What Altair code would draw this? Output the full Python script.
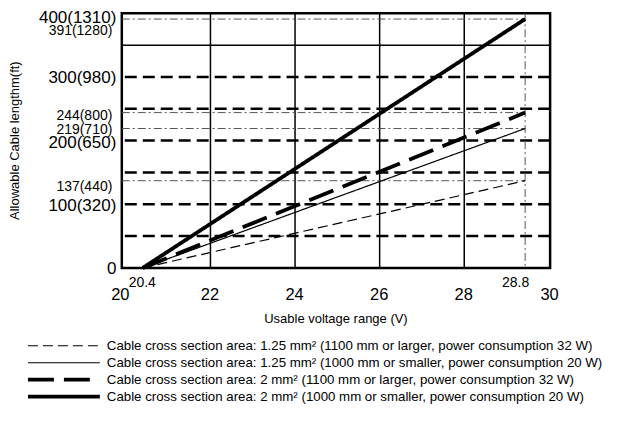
import altair as alt
import pandas as pd

# ---- data ----
series = [
    "Cable cross section area: 1.25 mm² (1100 mm or larger, power consumption 32 W)",
    "Cable cross section area: 1.25 mm² (1000 mm or smaller, power consumption 20 W)",
    "Cable cross section area: 2 mm² (1100 mm or larger, power consumption 32 W)",
    "Cable cross section area: 2 mm² (1000 mm or smaller, power consumption 20 W)",
]
v_start = 20.4
v_end = 28.8
len_start = [0, 0, 0, 0]
len_end = [137, 219, 244, 391]

y_ticks = [0, 100, 137, 200, 219, 244, 300, 391, 400]
y_labels = ["0", "100(320)", "137(440)", "200(650)", "219(710)", "244(800)",
            "300(980)", "391(1280)", "400(1310)"]
y_minor = [137, 219, 244, 391]
x_ticks = [20, 20.4, 22, 24, 26, 28, 28.8, 30]
x_labels = ["20", "20.4", "22", "24", "26", "28", "28.8", "30"]
x_minor = [20.4, 28.8]
grid_dashed = [50, 100, 150, 200, 250, 300]
grid_solid = [350]
grid_v = [22, 24, 26, 28]
ref_levels = [137, 219, 244, 391]

# ---- styles ----
dashes = [[10, 5], [1, 0], [26, 10], [1, 0]]
widths = [1.2, 1.2, 3.8, 3.8]
FONT = "Liberation Sans"

rows = []
for s, a, b in zip(series, len_start, len_end):
    rows.append({"series": s, "v": v_start, "len": a})
    rows.append({"series": s, "v": v_end, "len": b})
lines_df = pd.DataFrame(rows)

xscale = alt.Scale(domain=[20, 20.4, 28, 28.8, 30], range=[0, 21, 343, 404, 429],
                   nice=False, zero=False)
yscale = alt.Scale(domain=[0, 400], nice=False, zero=False)


def expr_map(vals, labels):
    return "{" + ",".join(f"'{v}':'{l}'" for v, l in zip(vals, labels)) + "}[datum.value]"


def in_list(vals):
    return " || ".join(f"datum.value == {v}" for v in vals)


x_axis = alt.Axis(
    values=x_ticks, labelExpr=expr_map(x_ticks, x_labels), title="Usable voltage range (V)",
    grid=False, ticks=False, domain=False, labelOverlap=False, labelFont=FONT,
    labelFontSize={"condition": {"test": in_list(x_minor), "value": 14}, "value": 16.5},
    labelPadding={"condition": {"test": in_list(x_minor), "value": 8}, "value": 19},
    labelOffset={"condition": [{"test": "datum.value == 28.8", "value": -10},
                               {"test": "datum.value == 20", "value": -2}], "value": -1},
    labelColor="black", labelBound=False, labelFlush=False,
    titleFont=FONT, titleFontSize=13, titleFontWeight="normal",
    titleColor="black", titleX=214, titleY=51, titleBaseline="middle",
)
y_axis = alt.Axis(
    values=y_ticks, labelExpr=expr_map(y_ticks, y_labels), title="Allowable Cable lengthm(ft)",
    grid=False, ticks=False, domain=False, labelOverlap=False, labelFont=FONT,
    labelFontSize={"condition": {"test": in_list(y_minor), "value": 14}, "value": 17},
    labelOffset={"condition": [{"test": "datum.value == 391", "value": 11},
                               {"test": "datum.value == 400", "value": 4},
                               {"test": "datum.value == 244", "value": 3},
                               {"test": "datum.value == 200", "value": 2},
                               {"test": "datum.value == 137", "value": 6}], "value": 1},
    labelPadding={"condition": {"test": in_list(y_minor), "value": 10}, "value": 6},
    labelColor="black", labelBound=False, labelFlush=False,
    titleFont=FONT, titleFontSize=13,
    titleFontWeight="normal", titleColor="black", titleX=-107, titleY=127,
    titleAngle=270, titleBaseline="middle", titleAlign="center",
)


def X(field):
    return alt.X(field, type="quantitative", scale=xscale, axis=x_axis)


def Y(field):
    return alt.Y(field, type="quantitative", scale=yscale, axis=y_axis)


dashed_df = pd.DataFrame({"y": grid_dashed})
solid_df = pd.DataFrame({"y": grid_solid})
vgrid_df = pd.DataFrame({"x": grid_v})
ref_df = pd.DataFrame({"y": ref_levels, "x0": [20] * len(ref_levels), "x1": [v_end] * len(ref_levels)})
refv_df = pd.DataFrame({"x": [v_end]})

g_dashed = alt.Chart(dashed_df).mark_rule(color="black", strokeWidth=2.5, strokeDash=[12, 6]).encode(
    y=Y("y"))
g_solid = alt.Chart(solid_df).mark_rule(color="black", strokeWidth=1.5).encode(y=Y("y"))
g_v = alt.Chart(vgrid_df).mark_rule(color="black", strokeWidth=1.5).encode(x=X("x"))
g_ref = alt.Chart(ref_df).mark_rule(color="#555555", strokeWidth=1, strokeDash=[8, 3, 2, 3]).encode(
    y=Y("y"), x=X("x0"), x2="x1:Q")
g_refv = alt.Chart(refv_df).mark_rule(color="#555555", strokeWidth=1, strokeDash=[8, 3, 2, 3]).encode(
    x=X("x"))


def line_layer(i):
    df = lines_df[lines_df["series"] == series[i]]
    return alt.Chart(df).mark_line(color="black", strokeWidth=widths[i], strokeDash=dashes[i],
                                   strokeCap="butt").encode(x=X("v"), y=Y("len"))


main = alt.layer(g_dashed, g_solid, g_v, g_ref, g_refv, *[line_layer(i) for i in range(4)])

# ---- legend (own point scale for rows) ----
leg_df = pd.DataFrame({"series": series})
legy = alt.Scale(type="point", domain=series, range=[333, 384], padding=0)


def leg_rule(i):
    return alt.Chart(leg_df.iloc[[i]]).mark_rule(color="black", strokeWidth=widths[i],
                                                 strokeDash=dashes[i], strokeCap="butt").encode(
        y=alt.Y("series:N", scale=legy, axis=None), x=alt.value(-94), x2=alt.value(-22))


leg_text = alt.Chart(leg_df).mark_text(align="left", baseline="middle", font=FONT, fontSize=13.3,
                                       color="black").encode(
    y=alt.Y("series:N", scale=legy, axis=None), x=alt.value(-15), text="series:N")

legend = alt.layer(*[leg_rule(i) for i in range(4)], leg_text)

chart = alt.layer(main, legend).resolve_scale(y="independent").properties(
    width=429, height=255, autosize="none",
    padding={"left": 114, "top": 5, "right": 60, "bottom": 140},
    background="white",
).configure_view(stroke="black", strokeWidth=2.5)

chart.save("out.html", embed_options={"renderer": "svg", "actions": False})
